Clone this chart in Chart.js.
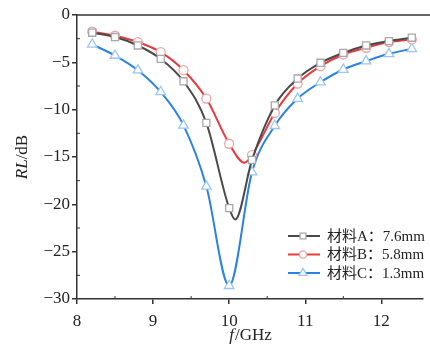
<!DOCTYPE html>
<html>
<head>
<meta charset="utf-8">
<script src="https://cdn.jsdelivr.net/npm/chart.js@4/dist/chart.umd.min.js"></script>
<style>
html,body{margin:0;padding:0;background:#fff;}
#wrap{width:430px;height:353px;position:relative;}
</style>
</head>
<body>
<div id="wrap"><canvas id="c"></canvas></div>
<script>
// ---- data ----
const freq = [8.2, 8.5, 8.8, 9.1, 9.4, 9.7, 10.0, 10.3, 10.6, 10.9, 11.2, 11.5, 11.8, 12.1, 12.4];
const rlA  = [-1.87, -2.33, -3.22, -4.63, -7.0, -11.4, -20.4, -15.3, -9.55, -6.71, -5.05, -4.0, -3.22, -2.76, -2.4];
const rlB  = [-1.77, -2.19, -2.86, -3.92, -5.83, -8.83, -13.6, -14.8, -10.35, -7.24, -5.41, -4.17, -3.46, -2.86, -2.58];
const rlC  = [-3.11, -4.28, -5.83, -8.13, -11.66, -18.1, -28.6, -16.6, -11.7, -8.83, -7.1, -5.76, -4.88, -4.1, -3.57];
// curve minima visible between markers (no marker drawn)
const minA = [10.08, -21.6];
const minB = [10.2, -15.6];
const labels = ['材料A：7.6mm', '材料B：5.8mm', '材料C：1.3mm'];
const xTicks = [8, 9, 10, 11, 12];
const yTicks = [0, -5, -10, -15, -20, -25, -30];

const SERIF = "'Liberation Serif','Noto Sans CJK SC',serif";

function build(vals, extra) {
  const pts = freq.map((f, i) => ({x: f, y: vals[i], m: true}));
  if (extra) pts.push({x: extra[0], y: extra[1], m: false});
  pts.sort((a, b) => a.x - b.x);
  return pts;
}
const dA = build(rlA, minA), dB = build(rlB, minB), dC = build(rlC, null);

const styles = [
  {line: '#4a4a4a', mark: '#a8a8a8', ps: 'rect', r: 5, lr: 4.2},
  {line: '#e83a3f', mark: '#f2a3a5', ps: 'circle', r: 4.5, lr: 3.6},
  {line: '#2a83e0', mark: '#9cc6f2', ps: 'triangle', r: 5.5, lr: 4.6}
];

function ds(data, i) {
  const s = styles[i];
  return {
    label: labels[i],
    data: data,
    borderColor: s.line,
    borderWidth: 2,
    cubicInterpolationMode: 'monotone',
    pointStyle: s.ps,
    pointRadius: data.map(p => p.m ? s.r : 0),
    pointHoverRadius: data.map(p => p.m ? s.r : 0),
    pointBackgroundColor: '#ffffff',
    pointBorderColor: s.mark,
    pointBorderWidth: 1.3
  };
}

function fmtNum(v) { return v < 0 ? '\u2212' + Math.abs(v) : String(v); }

const decor = {
  id: 'decor',
  afterDraw(chart) {
    const ctx = chart.ctx;
    const {left, top, right, bottom} = chart.chartArea;
    const xs = chart.scales.x, ys = chart.scales.y;
    ctx.save();
    ctx.strokeStyle = '#333';
    ctx.lineWidth = 1.5;
    // top border
    ctx.beginPath(); ctx.moveTo(left, top); ctx.lineTo(430, top); ctx.stroke();
    // minor ticks (inward)
    ctx.lineWidth = 1;
    [8.5, 9.5, 10.5, 11.5].forEach(v => {
      const px = xs.getPixelForValue(v);
      ctx.beginPath(); ctx.moveTo(px, bottom); ctx.lineTo(px, bottom - 3); ctx.stroke();
    });
    [-2.5, -7.5, -12.5, -17.5, -22.5, -27.5].forEach(v => {
      const py = ys.getPixelForValue(v);
      ctx.beginPath(); ctx.moveTo(left, py); ctx.lineTo(left + 3, py); ctx.stroke();
    });
    // axis titles
    ctx.fillStyle = '#222';
    ctx.textBaseline = 'middle';
    const fi = 'italic 17px ' + SERIF, fn = '17px ' + SERIF;
    // x title
    ctx.font = fi; const w1 = ctx.measureText('f').width;
    ctx.font = fn; const w2 = ctx.measureText('/GHz').width;
    let x0 = (left + right) / 2 - (w1 + w2) / 2;
    ctx.textAlign = 'left';
    ctx.font = fi; ctx.fillText('f', x0, 336);
    ctx.font = fn; ctx.fillText('/GHz', x0 + w1 + 1, 336);
    // y title
    ctx.save();
    ctx.translate(23, (top + bottom) / 2);
    ctx.rotate(-Math.PI / 2);
    ctx.font = fi; const v1 = ctx.measureText('RL').width;
    ctx.font = fn; const v2 = ctx.measureText('/dB').width;
    let y0 = -(v1 + v2) / 2;
    ctx.font = fi; ctx.fillText('RL', y0, 0);
    ctx.font = fn; ctx.fillText('/dB', y0 + v1, 0);
    ctx.restore();
    // legend
    const rows = [236, 254.5, 273];
    ctx.font = '15px ' + SERIF;
    rows.forEach((ry, i) => {
      const s = styles[i];
      ctx.strokeStyle = s.line; ctx.lineWidth = 2;
      ctx.beginPath(); ctx.moveTo(288, ry); ctx.lineTo(320, ry); ctx.stroke();
      ctx.fillStyle = '#fff';
      ctx.strokeStyle = s.mark; ctx.lineWidth = 1.3;
      ctx.beginPath();
      const r = s.lr, cx = 303;
      if (s.ps === 'rect') { const h = r * Math.SQRT1_2; ctx.rect(cx - h, ry - h, 2 * h, 2 * h); }
      else if (s.ps === 'circle') { ctx.arc(cx, ry, r, 0, Math.PI * 2); }
      else { ctx.moveTo(cx, ry - r); ctx.lineTo(cx + r * 0.866, ry + r * 0.5); ctx.lineTo(cx - r * 0.866, ry + r * 0.5); ctx.closePath(); }
      ctx.fill(); ctx.stroke();
      ctx.fillStyle = '#222';
      ctx.textAlign = 'left';
      ctx.fillText(labels[i], 327, ry + 1);
    });
    ctx.restore();
  }
};

new Chart(document.getElementById('c'), {
  type: 'line',
  data: {datasets: [ds(dA, 0), ds(dB, 1), ds(dC, 2)]},
  options: {
    responsive: true,
    maintainAspectRatio: false,
    devicePixelRatio: 1,
    animation: false,
    layout: {padding: {top: 15, right: 0, left: 0, bottom: 0}},
    plugins: {legend: {display: false}, tooltip: {enabled: false}},
    scales: {
      x: {
        type: 'linear', min: 8, max: 12.55,
        afterBuildTicks: s => { s.ticks = xTicks.map(v => ({value: v})); },
        afterFit: s => { s.height = 54; },
        grid: {display: true, drawOnChartArea: false, drawTicks: true, tickLength: 5, color: '#333', lineWidth: 1.5},
        border: {display: true, color: '#333', width: 1.5},
        ticks: {font: {family: SERIF, size: 17}, color: '#222', padding: 7, maxRotation: 0,
                callback: v => fmtNum(v)}
      },
      y: {
        type: 'linear', min: -30, max: 0,
        afterBuildTicks: s => { s.ticks = yTicks.map(v => ({value: v})); },
        afterFit: s => { s.width = 77; },
        grid: {display: true, drawOnChartArea: false, drawTicks: true, tickLength: 5, color: '#333', lineWidth: 1.5},
        border: {display: true, color: '#333', width: 1.5},
        ticks: {font: {family: SERIF, size: 17}, color: '#222', padding: 2,
                callback: v => fmtNum(v)}
      }
    }
  },
  plugins: [decor]
});
</script>
</body>
</html>
